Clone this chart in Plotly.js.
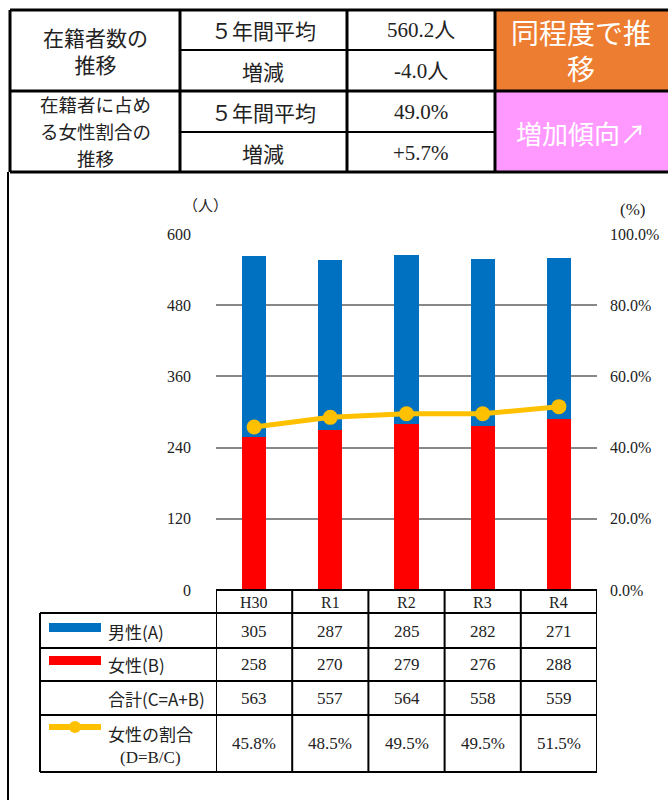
<!DOCTYPE html>
<html>
<head>
<meta charset="utf-8">
<script src="https://cdn.plot.ly/plotly-3.0.1.min.js"></script>
<style>html,body{margin:0;padding:0;background:#fff;}#chart{width:668px;height:800px;}</style>
</head>
<body>
<div id="chart"></div>
<script>
// ---- data ----
const categories = ["H30", "R1", "R2", "R3", "R4"];
const male = [305, 287, 285, 282, 271];
const female = [258, 270, 279, 276, 288];
const total = [563, 557, 564, 558, 559];
const femaleRatio = [45.8, 48.5, 49.5, 49.5, 51.5];
const rowLabels = ["男性(A)", "女性(B)", "合計(C=A+B)", "女性の割合"];
const leftTicks = [0, 120, 240, 360, 480, 600];
const rightTicks = [0, 20, 40, 60, 80, 100];
const summaryTotal = ["560.2人", "-4.0人"];
const summaryRatio = ["49.0%", "+5.7%"];
const verdicts = ["同程度で推<br>移", "増加傾向↗"];

// ---- helpers (pixel -> paper) ----
const W = 668, H = 800;
const X = v => v / W;
const Y = v => 1 - v / H;
const SERIF = "Liberation Serif, 'Noto Sans CJK JP', serif";
const JP = "'Noto Sans CJK JP', sans-serif";
const shapes = [];
const ann = [];
function hline(x0, x1, y, w, xref) {
  shapes.push({type: 'line', xref: xref || 'paper', yref: 'paper',
    x0: xref ? x0 : X(x0), x1: xref ? x1 : X(x1), y0: Y(y), y1: Y(y),
    line: {color: '#000', width: w || 2}});
}
function vline(x, y0, y1, w, xref) {
  shapes.push({type: 'line', xref: xref || 'paper', yref: 'paper',
    x0: xref ? x : X(x), x1: xref ? x : X(x), y0: Y(y0), y1: Y(y1),
    line: {color: '#000', width: w || 2}});
}
function rect(x0, y0, x1, y1, fill) {
  shapes.push({type: 'rect', xref: 'paper', yref: 'paper', layer: 'below',
    x0: X(x0), x1: X(x1), y0: Y(y0), y1: Y(y1),
    fillcolor: fill, line: {width: 0}});
}
function text(t, x, y, size, opts) {
  opts = opts || {};
  ann.push({text: t, xref: opts.xref || 'paper', yref: 'paper',
    x: opts.xref ? x : X(x), y: Y(y), showarrow: false,
    xanchor: opts.anchor || 'center', yanchor: 'middle', align: opts.align || 'center',
    font: {family: opts.family || SERIF, size: size, color: opts.color || '#222'}});
}

// ---- top summary table ----
rect(495, 10, 668, 91, '#ED7D31');
rect(495, 91, 668, 172, '#FF99FF');
hline(10, 668, 10, 3);
hline(10, 668, 91, 3);
hline(10, 668, 172, 3);
hline(180, 495, 50, 2);
hline(180, 495, 132, 2);
vline(10, 10, 172, 3);
vline(180, 10, 172, 3);
vline(347, 10, 172, 3);
vline(495, 10, 172, 3);

text("在籍者数の<br>推移", 95, 51, 21, {family: JP});
text("５年間平均", 263, 30, 21, {family: JP});
text("増減", 263, 71, 21, {family: JP});
text(summaryTotal[0], 421, 30, 21);
text(summaryTotal[1], 421, 71, 21);
text("在籍者に占め", 95, 104, 18.5, {family: JP});
text("る女性割合の", 95, 131, 18.5, {family: JP});
text("推移", 95, 158, 18.5, {family: JP});
text("５年間平均", 263, 112, 21, {family: JP});
text("増減", 263, 153, 21, {family: JP});
text(summaryRatio[0], 421, 112, 21);
text(summaryRatio[1], 421, 153, 21);
text(verdicts[0], 581, 50, 28, {family: JP, color: '#fff'});
text(verdicts[1], 581, 132, 26, {family: JP, color: '#fff'});

// chart frame left edge
vline(8, 172, 800, 2);

// axis unit labels
text("（人）", 205, 205, 15, {family: JP});
text("(%)", 632, 210, 17);

// ---- data table under the chart ----
hline(-0.5, 4.5, 590, 2, 'x');
[613, 648, 681, 715, 772].forEach(y => hline(40, 597, y, 2));
vline(40, 613, 772, 2);
for (let i = 0; i <= categories.length; i++) vline(i - 0.5, 590, 772, 2, 'x');

categories.forEach((c, i) => {
  text(c, i, 602, 16, {xref: 'x'});
  text(String(male[i]), i, 631, 17, {xref: 'x'});
  text(String(female[i]), i, 664, 17, {xref: 'x'});
  text(String(total[i]), i, 698, 17, {xref: 'x'});
  text(femaleRatio[i].toFixed(1) + '%', i, 743, 17, {xref: 'x'});
});

// legend swatches
rect(49, 623, 101, 632, '#0070C0');
rect(49, 656, 101, 665, '#FF0000');
shapes.push({type: 'line', xref: 'paper', yref: 'paper', x0: X(49), x1: X(101), y0: Y(727), y1: Y(727),
  line: {color: '#FFC000', width: 6}});
shapes.push({type: 'circle', xref: 'paper', yref: 'paper', x0: X(69), x1: X(81), y0: Y(721), y1: Y(733),
  fillcolor: '#FFC000', line: {width: 0}});

text(rowLabels[0], 106, 631, 17, {anchor: 'left', family: JP});
text(rowLabels[1], 106, 664, 17, {anchor: 'left', family: JP});
text(rowLabels[2], 106, 698, 17, {anchor: 'left', family: JP});
text(rowLabels[3], 106, 733, 17, {anchor: 'left', family: JP});
text("(D=B/C)", 150, 757, 17);

// ---- traces ----
const traces = [
  {type: 'bar', x: categories, y: female, name: '女性(B)', marker: {color: '#FF0000'}, yaxis: 'y'},
  {type: 'bar', x: categories, y: male, name: '男性(A)', marker: {color: '#0070C0'}, yaxis: 'y'},
  {type: 'scatter', mode: 'lines+markers', x: categories, y: femaleRatio, name: '女性の割合',
    yaxis: 'y2', line: {color: '#FFC000', width: 5}, marker: {color: '#FFC000', size: 15}}
];

const layout = {
  width: W, height: H,
  margin: {l: 0, r: 0, t: 0, b: 0},
  paper_bgcolor: '#fff', plot_bgcolor: 'rgba(0,0,0,0)',
  showlegend: false,
  barmode: 'stack',
  bargap: 0.68,
  xaxis: {domain: [X(216), X(597)], range: [-0.5, 4.5], type: 'category',
    showticklabels: false, showgrid: false, zeroline: false, showline: false, ticks: ''},
  yaxis: {domain: [Y(590), Y(234)], range: [0, 600], tickvals: leftTicks,
    ticktext: leftTicks.map(String), showgrid: true, gridcolor: '#888', gridwidth: 2,
    zeroline: false, showline: false, ticks: '', ticklabelstandoff: 24,
    tickfont: {family: SERIF, size: 16, color: '#222'}},
  yaxis2: {overlaying: 'y', side: 'right', range: [0, 100], tickvals: rightTicks,
    ticktext: rightTicks.map(v => v.toFixed(1) + '%'), showgrid: false, zeroline: false,
    showline: false, ticks: '', ticklabelstandoff: 12,
    tickfont: {family: SERIF, size: 16, color: '#222'}},
  shapes: shapes,
  annotations: ann
};

Plotly.newPlot('chart', traces, layout, {displayModeBar: false, staticPlot: true});
</script>
</body>
</html>
